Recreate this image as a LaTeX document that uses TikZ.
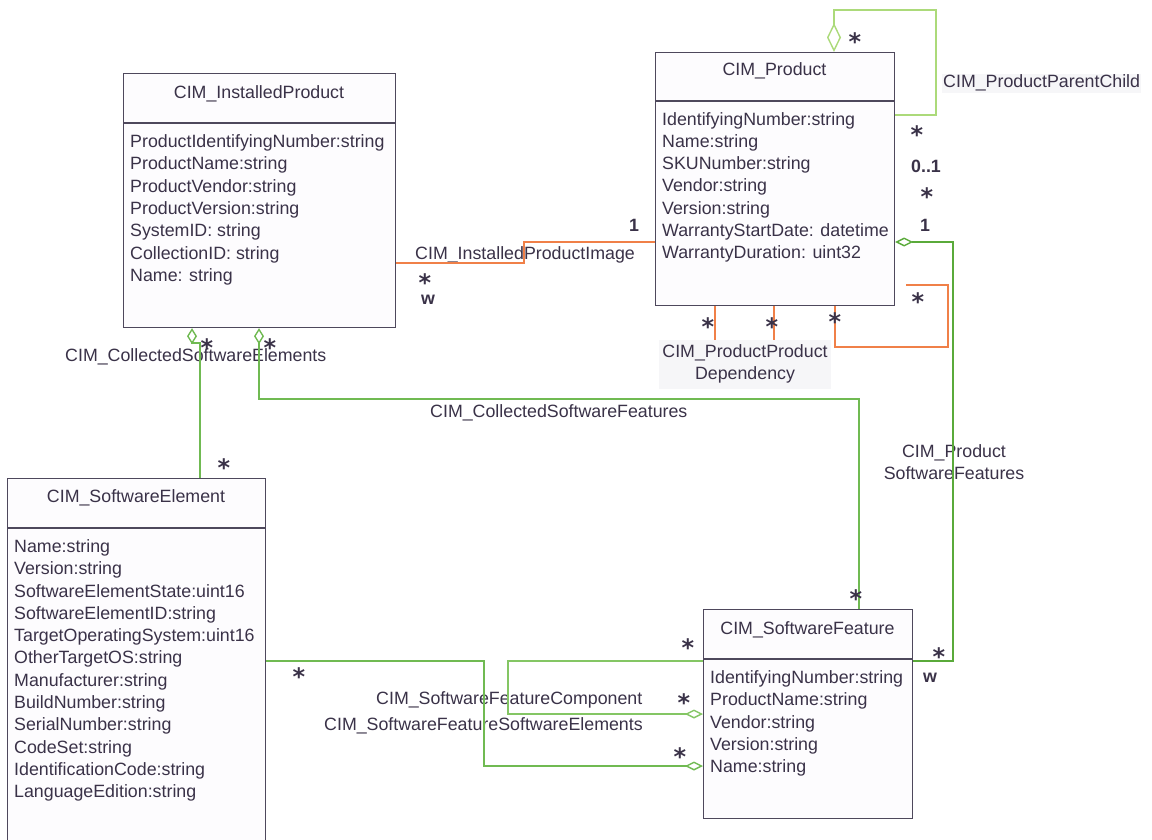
\documentclass[tikz,border=0pt]{standalone}
\usepackage{fontspec}
\setmainfont{Liberation Sans}
\newfontfamily\starfont{DejaVu Sans}
\usetikzlibrary{arrows.meta}
\definecolor{txt}{RGB}{58,50,72}
\definecolor{boxc}{RGB}{78,72,92}
\definecolor{boxf}{RGB}{253,252,254}
\definecolor{orng}{RGB}{240,128,72}
\definecolor{grnA}{RGB}{172,218,122}
\definecolor{grnB}{RGB}{112,186,82}
\definecolor{grnC}{RGB}{132,198,100}
\definecolor{grnD}{RGB}{90,170,58}
\definecolor{labbg}{RGB}{246,246,248}
\begin{document}
\begin{tikzpicture}[x=1pt,y=-1pt,
  every node/.style={text=txt, font=\fontsize{17.8}{22.3}\selectfont, inner sep=0pt},
  cls/.style={draw=boxc, fill=boxf, line width=1.2pt, rectangle, anchor=north west},
  sepline/.style={draw=boxc, line width=1.2pt},
  attr/.style={anchor=north west, align=left},
  ttl/.style={anchor=base},
  lab/.style={anchor=base west},
  mult/.style={anchor=base, font=\fontsize{17.8}{22.3}\selectfont\bfseries},
  star/.style={anchor=base, font=\starfont\fontsize{24}{24}\selectfont\bfseries, yshift=-13.5pt},
  oconn/.style={draw=orng, line width=1.5pt},
  gconn/.style={line width=1.4pt},
  dia/.style={Diamond[open, length=#1]},
]
\useasboundingbox (0,0) rectangle (1152,840);
\fill[white] (0,0) rectangle (1152,840);

% ---------- classes ----------
\node[cls, minimum width=272pt, minimum height=254pt] (ip) at (123,73) {};
\draw[sepline] (ip.west |- 0,123) -- (ip.east |- 0,123);
\node[ttl] (ipt) at (259,98.3) {CIM\_InstalledProduct};
\node[attr] (ipa) at (130,134.5) {ProductIdentifyingNumber:string\\ProductName:string\\ProductVendor:string\\ProductVersion:string\\SystemID: string\\CollectionID: string\\Name: string};

\node[cls, minimum width=239pt, minimum height=253pt] (prod) at (655,52) {};
\draw[sepline] (prod.west |- 0,101) -- (prod.east |- 0,101);
\node[ttl] (prodt) at (774.5,76) {CIM\_Product};
\node[attr] (proda) at (662,112) {IdentifyingNumber:string\\Name:string\\SKUNumber:string\\Vendor:string\\Version:string\\WarrantyStartDate: datetime\\WarrantyDuration: uint32};

\node[cls, minimum width=258pt, minimum height=370pt] (se) at (7,478) {};
\draw[sepline] (se.west |- 0,528) -- (se.east |- 0,528);
\node[ttl] (set) at (136,502.7) {CIM\_SoftwareElement};
\node[attr] (sea) at (14,539.3) {Name:string\\Version:string\\SoftwareElementState:uint16\\SoftwareElementID:string\\TargetOperatingSystem:uint16\\OtherTargetOS:string\\Manufacturer:string\\BuildNumber:string\\SerialNumber:string\\CodeSet:string\\IdentificationCode:string\\LanguageEdition:string};

\node[cls, minimum width=209pt, minimum height=209pt] (sf) at (703,609) {};
\draw[sepline] (sf.west |- 0,659) -- (sf.east |- 0,659);
\node[ttl] (sft) at (807.5,634.3) {CIM\_SoftwareFeature};
\node[attr] (sfa) at (710,670.3) {IdentifyingNumber:string\\ProductName:string\\Vendor:string\\Version:string\\Name:string};

% ---------- association labels ----------
\node[lab] (l1) at (415,259) {CIM\_InstalledProductImage};
\node[lab, fill=labbg, inner sep=1pt] (l2) at (942,88) {CIM\_ProductParentChild};
\node[anchor=north, align=center, fill=labbg, inner xsep=3pt, inner ysep=5pt] (ppd) at (745,339.5) {CIM\_ProductProduct\\Dependency};
\node[anchor=north, align=center] (l4) at (954,444) {CIM\_Product\\SoftwareFeatures};
\node[lab] (l5) at (65,361) {CIM\_CollectedSoftwareElements};
\node[lab] (l6) at (430,417) {CIM\_CollectedSoftwareFeatures};
\node[lab] (l7) at (376,704) {CIM\_SoftwareFeatureComponent};
\node[lab] (l8) at (324,730) {CIM\_SoftwareFeatureSoftwareElements};

% ---------- connectors ----------
\draw[oconn] (ip.east |- 0,263) -- (524,263) -- (524,242) -- (prod.west |- 0,242);

\draw[gconn, draw=grnA, {Diamond[open, length=29pt, width=14pt]}-] (834,0 |- prod.north) -- (834,10) -- (936,10) -- (936,115) -- (prod.east |- 0,115);

\draw[gconn, draw=grnD, {Diamond[open, length=18pt, width=9pt]}-] (prod.east |- 0,242) -- (953,242) -- (953,661) -- (sf.east |- 0,661);

\draw[oconn] (715,0 |- prod.south) -- (715,0 |- ppd.north);
\draw[oconn] (774,0 |- prod.south) -- (774,0 |- ppd.north);
\coordinate (ppdend) at (906,285);
\draw[oconn] (835,0 |- prod.south) -- (835,347) -- (948,347) -- (948,285) -- (ppdend);

\draw[gconn, draw=grnB, {Diamond[open, length=16pt, width=10pt]}-] (192,0 |- ip.south) -- (192,343) -- (200,343) -- (200,0 |- se.north);
\draw[gconn, draw=grnB, {Diamond[open, length=16pt, width=10pt]}-] (259,0 |- ip.south) -- (259,399) -- (859,399) -- (859,0 |- sf.north);

\draw[gconn, draw=grnC, -{Diamond[open, length=18pt, width=9pt]}] (sf.west |- 0,661) -- (508,661) -- (508,714) -- (sf.west |- 0,714);
\draw[gconn, draw=grnB, -{Diamond[open, length=18pt, width=9pt]}] (se.east |- 0,661) -- (484,661) -- (484,766) -- (sf.west |- 0,766);

% ---------- multiplicities ----------
\node[mult] (m1) at (634,231) {1};
\node[star] (m2) at (425,278) {*};
\node[mult] (m3) at (428,304.5) {w};
\node[star] (m4) at (855,37) {*};
\node[star] (m5) at (917,130) {*};
\node[mult] (m6) at (926,172) {0..1};
\node[star] (m7) at (927,192) {*};
\node[mult] (m8) at (925,231) {1};
\node[star] (m9) at (708,322) {*};
\node[star] (m10) at (772,322) {*};
\node[star] (m11) at (835,317) {*};
\node[star] (m12) at (918,297) {*};
\node[star] (m13) at (207,343) {*};
\node[star] (m14) at (224,463) {*};
\node[star] (m15) at (270,343) {*};
\node[star] (m16) at (856,594) {*};
\node[star] (m17) at (939,652) {*};
\node[mult] (m18) at (930,682.5) {w};
\node[star] (m19) at (688,643) {*};
\node[star] (m20) at (684,698) {*};
\node[star] (m21) at (299,672) {*};
\node[star] (m22) at (680,752) {*};
\end{tikzpicture}
\end{document}
